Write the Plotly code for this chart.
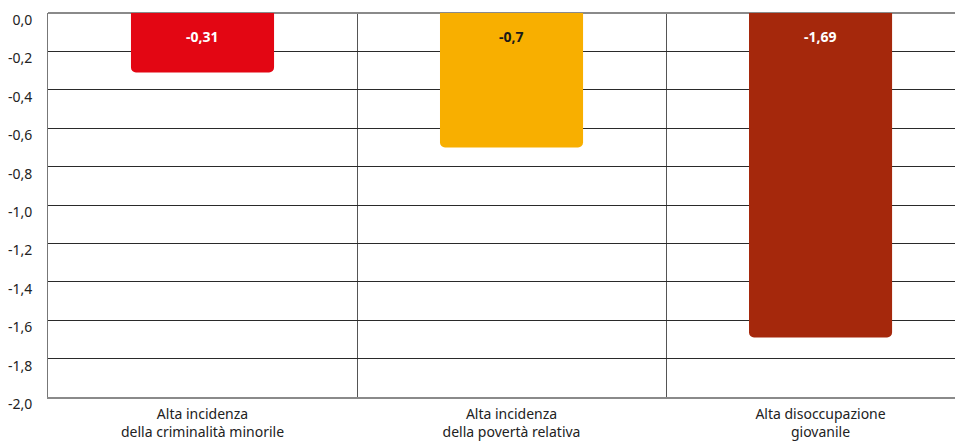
import plotly.graph_objects as go

categories = ["Alta incidenza<br>della criminalità minorile",
              "Alta incidenza<br>della povertà relativa",
              "Alta disoccupazione<br>giovanile"]
values = [-0.31, -0.7, -1.69]
bar_colors = ["#E30613", "#F8AF00", "#A5280C"]
text_colors = ["#FFFFFF", "#1A1A1A", "#FFFFFF"]
labels = [str(v).replace(".", ",") for v in values]
y_ticks = [0.0, -0.2, -0.4, -0.6, -0.8, -1.0, -1.2, -1.4, -1.6, -1.8, -2.0]
y_ticktext = [("%.1f" % v).replace(".", ",") for v in y_ticks]

fig = go.Figure(go.Bar(
    x=categories, y=values,
    marker=dict(color=bar_colors, line=dict(width=0), cornerradius=5),
    width=0.463,
    hoverinfo="skip",
))

for c, v, t, tc in zip(categories, values, labels, text_colors):
    fig.add_annotation(
        x=c, y=0, text="<b>" + t + "</b>", showarrow=False,
        yanchor="middle", yshift=-23,
        font=dict(family="Noto Sans", size=14, color=tc),
    )

fig.update_layout(
    width=955, height=433,
    margin=dict(l=40, r=0, t=5, b=44, autoexpand=False),
    plot_bgcolor="white", paper_bgcolor="white",
    showlegend=False,
    font=dict(family="Noto Sans", size=14, color="#222222"),
)
fig.update_yaxes(
    range=[-2, 0], tickvals=y_ticks, ticktext=y_ticktext,
    showgrid=True, gridcolor="#2a2a2a", gridwidth=1,
    zeroline=True, zerolinecolor="#8a8a8a", zerolinewidth=2,
    showline=True, linecolor="#777777", linewidth=1,
    ticks="", ticklabelstandoff=12, ticklabelshift=7,
    ticklabeloverflow="allow", automargin=False,
    tickfont=dict(size=14, color="#222222"),
)
fig.update_xaxes(
    range=[-0.5, 2.461], automargin=False,
    tickson="boundaries", showgrid=True, gridcolor="#555555", gridwidth=1,
    showline=True, linecolor="#8a8a8a", linewidth=2,
    ticks="", ticklabelstandoff=3, tickfont=dict(size=14, color="#222222"),
)

fig.write_html("out.html")
